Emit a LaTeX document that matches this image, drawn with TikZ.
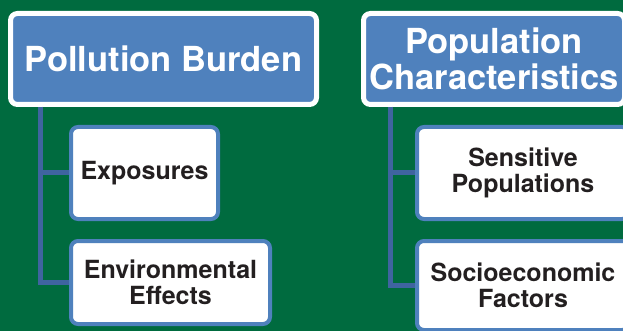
\documentclass[tikz,border=0pt]{standalone}
\usepackage{fontspec}
\setmainfont{TeX Gyre Heros}
\definecolor{bggreen}{HTML}{006B3F}
\definecolor{boxblue}{HTML}{4F81BD}
\definecolor{linkblue}{HTML}{3F64A0}
\definecolor{inkdark}{HTML}{231F20}

\begin{document}
\begin{tikzpicture}[x=1pt,y=-1pt,
    headbox/.style={draw=white, line width=5pt, fill=boxblue, rounded corners=7pt,
        text=white, font=\fontsize{34.5}{36}\selectfont\bfseries, align=center,
        inner sep=0pt, outer sep=0pt, minimum height=91pt},
    subbox/.style={draw=boxblue, line width=4pt, fill=white, rounded corners=7pt,
        text=inkdark, font=\fontsize{25}{26.5}\selectfont\bfseries, align=center,
        inner sep=0pt, outer sep=0pt},
    link/.style={draw=linkblue, line width=5pt, shorten <=2.5pt, shorten >=2pt}]
    \useasboundingbox (0,0) rectangle (623,331);
    \clip (0,0) rectangle (623,331);
    \fill[bggreen] (0,0) rectangle (623,331);
    % headings
    \node[headbox, minimum width=306pt] (pb) at (163.5,59) {Pollution Burden};
    \node[headbox, minimum width=261pt] (pc) at (494,59) {Population\\Characteristics};
    % indicators
    \node[subbox, minimum width=147pt, minimum height=92pt] (exp) at (144.5,173) {Exposures};
    \node[subbox, minimum width=199pt, minimum height=83pt] (env) at (170.5,282.5) {Environmental\\Effects};
    \node[subbox, minimum width=212pt, minimum height=92pt] (sens) at (523,173) {Sensitive\\Populations};
    \node[subbox, minimum width=212pt, minimum height=89pt] (soc) at (523,285.5) {Socioeconomic\\Factors};
    % tree lines
    \draw[link] ([xshift=30pt]pb.south west) |- (exp.west);
    \draw[link] ([xshift=30pt]pb.south west) |- (env.west);
    \draw[link] ([xshift=26.5pt]pc.south west) |- (sens.west);
    \draw[link] ([xshift=26.5pt]pc.south west) |- (soc.west);
\end{tikzpicture}
\end{document}
